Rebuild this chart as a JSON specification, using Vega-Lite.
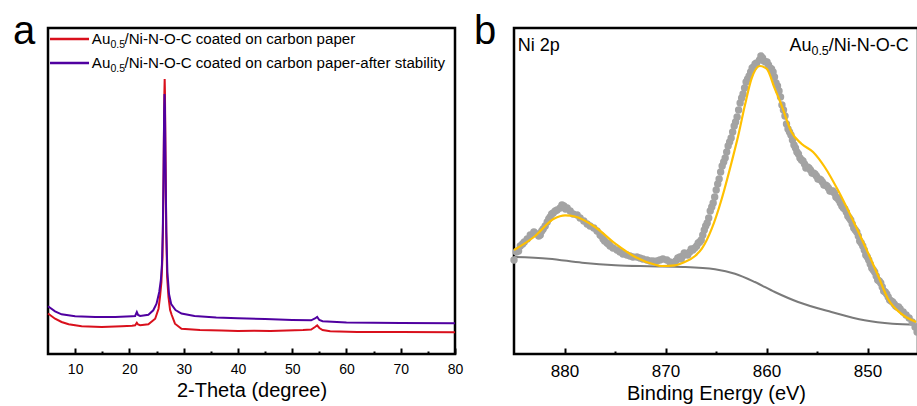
{
  "$schema": "https://vega.github.io/schema/vega-lite/v6.json",
  "padding": {"left": 11, "top": 10, "right": 0, "bottom": 0},
  "bounds": "flush",
  "spacing": 59,
  "config": {
    "font": "Liberation Sans",
    "view": {"stroke": "black", "strokeWidth": 2.5},
    "axis": {"grid": false, "domain": false, "labelColor": "black", "titleColor": "black", "tickColor": "black", "titleFontWeight": "normal", "labelFlush": false}
  },
  "datasets": {
    "red": [
      {"x": 5, "y": 40.5}, {"x": 6.3, "y": 35.3}, {"x": 7.5, "y": 32}, {"x": 8.8, "y": 29.7}, {"x": 11.2, "y": 27.7},
      {"x": 14.9, "y": 27}, {"x": 18.6, "y": 27.7}, {"x": 20.5, "y": 28.2}, {"x": 21.06, "y": 28.7}, {"x": 21.37, "y": 31.3},
      {"x": 21.6, "y": 29.5}, {"x": 21.98, "y": 28.7}, {"x": 23.5, "y": 29.7}, {"x": 24.75, "y": 35.3}, {"x": 25.37, "y": 45.3},
      {"x": 25.67, "y": 58.7}, {"x": 25.9, "y": 72}, {"x": 26.1, "y": 97}, {"x": 26.25, "y": 152}, {"x": 26.35, "y": 212},
      {"x": 26.45, "y": 262}, {"x": 26.5, "y": 275}, {"x": 26.55, "y": 262}, {"x": 26.65, "y": 202}, {"x": 26.8, "y": 122},
      {"x": 26.95, "y": 77}, {"x": 27.2, "y": 57}, {"x": 27.5, "y": 44}, {"x": 27.8, "y": 39}, {"x": 28.4, "y": 30.3},
      {"x": 29.6, "y": 25.3}, {"x": 33, "y": 24}, {"x": 37, "y": 23.5}, {"x": 40, "y": 23}, {"x": 43, "y": 23.3},
      {"x": 46, "y": 23}, {"x": 49, "y": 23.5}, {"x": 52, "y": 24}, {"x": 53.5, "y": 24.5}, {"x": 54.2, "y": 27},
      {"x": 54.6, "y": 28.7}, {"x": 55, "y": 26}, {"x": 55.6, "y": 24}, {"x": 57, "y": 22.7}, {"x": 62, "y": 22},
      {"x": 70, "y": 22}, {"x": 80, "y": 21.7}
    ],
    "purple": [
      {"x": 5, "y": 47.7}, {"x": 6.3, "y": 42.7}, {"x": 7.5, "y": 39.7}, {"x": 10, "y": 37.7}, {"x": 13.7, "y": 37},
      {"x": 17.4, "y": 37}, {"x": 20.5, "y": 37.8}, {"x": 21.06, "y": 38}, {"x": 21.37, "y": 42}, {"x": 21.6, "y": 39},
      {"x": 21.98, "y": 38}, {"x": 23.5, "y": 39.3}, {"x": 24.4, "y": 43.7}, {"x": 25.0, "y": 50.3}, {"x": 25.5, "y": 62},
      {"x": 25.8, "y": 74}, {"x": 26.0, "y": 90}, {"x": 26.15, "y": 122}, {"x": 26.3, "y": 182}, {"x": 26.4, "y": 242},
      {"x": 26.47, "y": 260}, {"x": 26.55, "y": 247}, {"x": 26.65, "y": 192}, {"x": 26.8, "y": 122}, {"x": 27.0, "y": 82},
      {"x": 27.3, "y": 60}, {"x": 27.7, "y": 50}, {"x": 28.5, "y": 44}, {"x": 29.6, "y": 40.5}, {"x": 32, "y": 38},
      {"x": 36, "y": 36.5}, {"x": 40, "y": 35.8}, {"x": 45, "y": 35}, {"x": 50, "y": 34}, {"x": 53.5, "y": 33.7},
      {"x": 54.2, "y": 35.5}, {"x": 54.6, "y": 37}, {"x": 55.0, "y": 34}, {"x": 55.6, "y": 32.7}, {"x": 60, "y": 31.5},
      {"x": 70, "y": 31}, {"x": 80, "y": 30.7}
    ],
    "legendLines": [
      {"x": 5.37, "x2": 12.56, "y": 315, "s": "before"},
      {"x": 5.37, "x2": 12.56, "y": 291, "s": "after"}
    ],
    "legendMain": [
      {"x": 13.08, "y": 309.7, "t": "Au"},
      {"x": 19.1, "y": 309.7, "t": "/Ni-N-O-C coated on carbon paper"},
      {"x": 13.08, "y": 285.7, "t": "Au"},
      {"x": 19.1, "y": 285.7, "t": "/Ni-N-O-C coated on carbon paper-after stability"}
    ],
    "legendSub": [
      {"x": 16.5, "y": 306.3, "t": "0.5"},
      {"x": 16.5, "y": 282, "t": "0.5"}
    ],
    "labelA": [
      {"x": -1.45, "y": 310.3, "t": "a"}
    ],
    "dots": [
      {"e": 885.00, "v": 94}, {"e": 884.77, "v": 102}, {"e": 884.38, "v": 108}, {"e": 883.98, "v": 112}, {"e": 883.69, "v": 115},
      {"e": 883.39, "v": 119}, {"e": 883.03, "v": 122}, {"e": 882.70, "v": 120}, {"e": 882.40, "v": 119}, {"e": 882.11, "v": 125},
      {"e": 881.71, "v": 132}, {"e": 881.42, "v": 137}, {"e": 881.12, "v": 141}, {"e": 880.73, "v": 144}, {"e": 880.43, "v": 146},
      {"e": 880.06, "v": 148}, {"e": 879.74, "v": 146}, {"e": 879.44, "v": 143}, {"e": 879.15, "v": 140}, {"e": 878.75, "v": 139},
      {"e": 878.46, "v": 136}, {"e": 878.09, "v": 133}, {"e": 877.76, "v": 130}, {"e": 877.47, "v": 128}, {"e": 877.10, "v": 126},
      {"e": 876.78, "v": 123}, {"e": 876.48, "v": 119}, {"e": 876.18, "v": 115}, {"e": 875.79, "v": 111}, {"e": 875.49, "v": 108},
      {"e": 875.20, "v": 106}, {"e": 874.80, "v": 104}, {"e": 874.51, "v": 102}, {"e": 874.21, "v": 100}, {"e": 873.82, "v": 99},
      {"e": 873.52, "v": 98}, {"e": 873.22, "v": 97}, {"e": 872.83, "v": 97}, {"e": 872.53, "v": 96}, {"e": 872.24, "v": 95},
      {"e": 871.84, "v": 94}, {"e": 871.54, "v": 93}, {"e": 871.25, "v": 93}, {"e": 870.85, "v": 93}, {"e": 870.56, "v": 94},
      {"e": 870.26, "v": 95}, {"e": 869.87, "v": 94}, {"e": 869.57, "v": 92}, {"e": 869.27, "v": 91}, {"e": 868.98, "v": 93},
      {"e": 868.58, "v": 97}, {"e": 868.29, "v": 98}, {"e": 867.99, "v": 100}, {"e": 867.60, "v": 102}, {"e": 867.30, "v": 104},
      {"e": 866.91, "v": 108}, {"e": 866.61, "v": 112}, {"e": 866.31, "v": 119}, {"e": 866.02, "v": 128}, {"e": 865.72, "v": 136},
      {"e": 865.42, "v": 147}, {"e": 865.13, "v": 157}, {"e": 864.83, "v": 170}, {"e": 864.54, "v": 182}, {"e": 864.24, "v": 192},
      {"e": 863.94, "v": 202}, {"e": 863.65, "v": 212}, {"e": 863.35, "v": 222}, {"e": 863.06, "v": 232}, {"e": 862.76, "v": 244},
      {"e": 862.46, "v": 256}, {"e": 862.17, "v": 266}, {"e": 861.87, "v": 275}, {"e": 861.57, "v": 282}, {"e": 861.28, "v": 287},
      {"e": 860.98, "v": 291}, {"e": 860.69, "v": 294}, {"e": 860.39, "v": 296}, {"e": 860.09, "v": 292}, {"e": 859.80, "v": 289},
      {"e": 859.50, "v": 285}, {"e": 859.21, "v": 277}, {"e": 858.91, "v": 268}, {"e": 858.61, "v": 257}, {"e": 858.32, "v": 244},
      {"e": 858.02, "v": 230}, {"e": 857.72, "v": 222}, {"e": 857.43, "v": 214}, {"e": 857.13, "v": 206}, {"e": 856.84, "v": 200},
      {"e": 856.54, "v": 194}, {"e": 856.24, "v": 190}, {"e": 855.95, "v": 187}, {"e": 855.65, "v": 184}, {"e": 855.36, "v": 181},
      {"e": 855.06, "v": 178}, {"e": 854.76, "v": 175}, {"e": 854.47, "v": 172}, {"e": 854.17, "v": 169}, {"e": 853.87, "v": 166},
      {"e": 853.58, "v": 163}, {"e": 853.28, "v": 161}, {"e": 852.99, "v": 156}, {"e": 852.69, "v": 151}, {"e": 852.39, "v": 146},
      {"e": 852.10, "v": 142}, {"e": 851.80, "v": 136}, {"e": 851.51, "v": 130}, {"e": 851.21, "v": 124}, {"e": 850.91, "v": 118},
      {"e": 850.62, "v": 111}, {"e": 850.32, "v": 104}, {"e": 850.02, "v": 97}, {"e": 849.73, "v": 90}, {"e": 849.43, "v": 84},
      {"e": 849.14, "v": 78}, {"e": 848.84, "v": 73}, {"e": 848.54, "v": 67}, {"e": 848.25, "v": 62}, {"e": 847.95, "v": 57},
      {"e": 847.66, "v": 53}, {"e": 847.36, "v": 50}, {"e": 847.06, "v": 47}, {"e": 846.77, "v": 45}, {"e": 846.47, "v": 42},
      {"e": 846.18, "v": 39}, {"e": 845.88, "v": 36}, {"e": 845.58, "v": 32}, {"e": 845.29, "v": 27}, {"e": 845.09, "v": 22},
      {"e": 866.16, "v": 124}, {"e": 865.87, "v": 131}, {"e": 865.57, "v": 143}, {"e": 865.28, "v": 151}, {"e": 864.98, "v": 164},
      {"e": 864.69, "v": 175}, {"e": 864.39, "v": 188}, {"e": 864.09, "v": 196}, {"e": 863.80, "v": 208}, {"e": 863.50, "v": 216},
      {"e": 863.20, "v": 228}, {"e": 862.91, "v": 237}, {"e": 862.61, "v": 251}, {"e": 862.32, "v": 260}, {"e": 862.02, "v": 272},
      {"e": 861.72, "v": 278}, {"e": 861.42, "v": 286}, {"e": 861.13, "v": 290}, {"e": 860.55, "v": 298}, {"e": 860.25, "v": 293},
      {"e": 859.95, "v": 292}, {"e": 859.65, "v": 286}, {"e": 859.35, "v": 282}, {"e": 859.06, "v": 271}, {"e": 858.76, "v": 263},
      {"e": 858.47, "v": 249}, {"e": 858.17, "v": 238}, {"e": 857.87, "v": 225}, {"e": 857.58, "v": 219}, {"e": 857.28, "v": 209},
      {"e": 856.99, "v": 202}, {"e": 856.69, "v": 196}, {"e": 856.39, "v": 193}, {"e": 856.10, "v": 186}, {"e": 855.80, "v": 186},
      {"e": 855.50, "v": 181}, {"e": 855.21, "v": 180}, {"e": 854.91, "v": 175}, {"e": 854.62, "v": 174}, {"e": 854.32, "v": 169},
      {"e": 854.02, "v": 168}, {"e": 853.73, "v": 163}, {"e": 853.43, "v": 163}, {"e": 853.13, "v": 157}, {"e": 852.84, "v": 154},
      {"e": 852.54, "v": 148}, {"e": 852.25, "v": 145}, {"e": 851.95, "v": 138}, {"e": 851.66, "v": 134}, {"e": 851.36, "v": 126},
      {"e": 851.06, "v": 122}, {"e": 850.77, "v": 113}, {"e": 850.47, "v": 108}, {"e": 850.17, "v": 99}, {"e": 849.88, "v": 94},
      {"e": 849.58, "v": 86}, {"e": 849.29, "v": 82}, {"e": 848.99, "v": 74}, {"e": 848.69, "v": 71}, {"e": 848.40, "v": 63},
      {"e": 848.10, "v": 60}, {"e": 847.81, "v": 54}, {"e": 847.51, "v": 52}, {"e": 847.21, "v": 48}, {"e": 846.92, "v": 47},
      {"e": 882.55, "v": 118}, {"e": 882.25, "v": 123}, {"e": 881.91, "v": 128}, {"e": 881.56, "v": 135}, {"e": 881.27, "v": 140},
      {"e": 880.92, "v": 143}, {"e": 880.25, "v": 149}, {"e": 879.90, "v": 145}, {"e": 884.55, "v": 103}, {"e": 884.15, "v": 110},
      {"e": 876.33, "v": 118}, {"e": 876.03, "v": 113}, {"e": 875.64, "v": 110}, {"e": 868.78, "v": 96}, {"e": 868.44, "v": 95},
      {"e": 868.14, "v": 101}, {"e": 867.80, "v": 99}, {"e": 867.45, "v": 105}, {"e": 867.10, "v": 106}, {"e": 866.76, "v": 111},
      {"e": 866.46, "v": 114}
    ],
    "fit": [
      {"e": 885.0, "v": 104}, {"e": 883.03, "v": 117}, {"e": 881.05, "v": 135.3}, {"e": 879.94, "v": 138.7}, {"e": 878.97, "v": 137.5},
      {"e": 876.97, "v": 127}, {"e": 874.97, "v": 110.3}, {"e": 873.0, "v": 97}, {"e": 871.02, "v": 89.3}, {"e": 870.36, "v": 88},
      {"e": 869.05, "v": 88.7}, {"e": 868.09, "v": 92}, {"e": 867.07, "v": 98}, {"e": 866.40, "v": 105.3}, {"e": 865.42, "v": 125.3},
      {"e": 864.43, "v": 155.3}, {"e": 863.45, "v": 192}, {"e": 862.79, "v": 218.7}, {"e": 862.14, "v": 248.7}, {"e": 861.48, "v": 275.3},
      {"e": 860.66, "v": 288}, {"e": 859.99, "v": 285.3}, {"e": 859.18, "v": 265.3}, {"e": 858.51, "v": 248.7}, {"e": 857.53, "v": 222},
      {"e": 856.54, "v": 210.3}, {"e": 855.39, "v": 202}, {"e": 854.24, "v": 187}, {"e": 852.92, "v": 163.7}, {"e": 851.60, "v": 137},
      {"e": 850.29, "v": 108.7}, {"e": 848.97, "v": 78.7}, {"e": 847.98, "v": 55.3}, {"e": 846.67, "v": 40.3}, {"e": 845.19, "v": 32}
    ],
    "bg": [
      {"e": 885.0, "v": 97}, {"e": 881.55, "v": 95.3}, {"e": 878.26, "v": 91.3}, {"e": 874.97, "v": 88.7}, {"e": 871.67, "v": 87.7},
      {"e": 868.26, "v": 87}, {"e": 865.1, "v": 84.7}, {"e": 863.12, "v": 80.3}, {"e": 861.15, "v": 72}, {"e": 859.18, "v": 62},
      {"e": 856.87, "v": 52}, {"e": 853.58, "v": 42}, {"e": 850.29, "v": 33.7}, {"e": 847.53, "v": 30.3}, {"e": 845.1, "v": 29.3}
    ],
    "xpsMain": [
      {"e": 884.64, "v": 302.7, "t": "Ni 2p"},
      {"e": 857.72, "v": 302.7, "t": "Au"},
      {"e": 853.83, "v": 302.7, "t": "/Ni-N-O-C"}
    ],
    "xpsSub": [
      {"e": 855.55, "v": 299, "t": "0.5"}
    ],
    "labelB": [
      {"e": 888.97, "v": 310.3, "t": "b"}
    ]
  },
  "hconcat": [
    {
      "width": 407,
      "height": 326,
      "resolve": {"axis": {"x": "independent"}},
      "layer": [
        {
          "data": {"name": "red"},
          "mark": {"type": "line", "color": "#d9101c", "strokeWidth": 2},
          "encoding": {
            "x": {"field": "x", "type": "quantitative", "scale": {"domain": [5, 80], "nice": false, "zero": false},
              "axis": {"values": [10, 20, 30, 40, 50, 60, 70, 80], "format": "d", "title": "2-Theta (degree)", "tickSize": -6, "tickWidth": 2, "labelPadding": 14.5, "labelFontSize": 14, "titleFontSize": 20, "titlePadding": 4, "orient": "bottom"}},
            "y": {"field": "y", "type": "quantitative", "scale": {"domain": [0, 326], "nice": false},
              "axis": {"title": "Intensity (a.u.)", "labels": false, "ticks": false, "titleFontSize": 20, "titlePadding": 5}}
          }
        },
        {
          "data": {"name": "purple"},
          "mark": {"type": "line", "color": "#5000a0", "strokeWidth": 2},
          "encoding": {
            "x": {"field": "x", "type": "quantitative",
              "axis": {"values": [15, 25, 35, 45, 55, 65, 75], "labels": false, "title": null, "tickSize": -3, "tickWidth": 2, "orient": "bottom"}},
            "y": {"field": "y", "type": "quantitative", "axis": null}
          }
        },
        {
          "data": {"name": "legendLines"},
          "mark": {"type": "rule", "strokeWidth": 2.5},
          "encoding": {
            "x": {"field": "x", "type": "quantitative", "axis": null},
            "x2": {"field": "x2"},
            "y": {"field": "y", "type": "quantitative", "axis": null},
            "color": {"field": "s", "type": "nominal", "scale": {"domain": ["before", "after"], "range": ["#d9101c", "#5000a0"]}, "legend": null}
          }
        },
        {
          "data": {"name": "legendMain"},
          "mark": {"type": "text", "align": "left", "baseline": "alphabetic", "fontSize": 15.1, "color": "black"},
          "encoding": {
            "x": {"field": "x", "type": "quantitative", "axis": null},
            "y": {"field": "y", "type": "quantitative", "axis": null},
            "text": {"field": "t"}
          }
        },
        {
          "data": {"name": "legendSub"},
          "mark": {"type": "text", "align": "left", "baseline": "alphabetic", "fontSize": 10.5, "color": "black"},
          "encoding": {
            "x": {"field": "x", "type": "quantitative", "axis": null},
            "y": {"field": "y", "type": "quantitative", "axis": null},
            "text": {"field": "t"}
          }
        },
        {
          "data": {"name": "labelA"},
          "mark": {"type": "text", "align": "left", "baseline": "alphabetic", "fontSize": 40, "color": "black"},
          "encoding": {
            "x": {"field": "x", "type": "quantitative", "axis": null},
            "y": {"field": "y", "type": "quantitative", "axis": null},
            "text": {"field": "t"}
          }
        }
      ]
    },
    {
      "width": 404,
      "height": 326,
      "resolve": {"axis": {"x": "independent"}},
      "layer": [
        {
          "data": {"name": "bg"},
          "mark": {"type": "line", "color": "#7a7a7a", "strokeWidth": 2, "interpolate": "monotone"},
          "encoding": {
            "x": {"field": "e", "type": "quantitative", "scale": {"domain": [845, 885], "reverse": true, "nice": false, "zero": false},
              "axis": {"values": [850, 860, 870, 880], "format": "d", "title": "Binding Energy (eV)", "tickSize": -6, "tickWidth": 2, "labelPadding": 15, "labelFontSize": 17, "titleFontSize": 20, "titlePadding": 4, "orient": "bottom"}},
            "y": {"field": "v", "type": "quantitative", "scale": {"domain": [0, 326], "nice": false},
              "axis": {"title": "Intensity (a.u.)", "labels": false, "ticks": false, "titleFontSize": 20, "titlePadding": 5}}
          }
        },
        {
          "data": {"name": "dots"},
          "mark": {"type": "circle", "color": "#a3a3a3", "opacity": 1, "size": 55},
          "encoding": {
            "x": {"field": "e", "type": "quantitative",
              "axis": {"values": [855, 865, 875], "labels": false, "title": null, "tickSize": -3, "tickWidth": 2, "orient": "bottom"}},
            "y": {"field": "v", "type": "quantitative", "axis": null}
          }
        },
        {
          "data": {"name": "fit"},
          "mark": {"type": "line", "color": "#ffc000", "strokeWidth": 2.2, "interpolate": "monotone"},
          "encoding": {
            "x": {"field": "e", "type": "quantitative", "axis": null},
            "y": {"field": "v", "type": "quantitative", "axis": null}
          }
        },
        {
          "data": {"name": "xpsMain"},
          "mark": {"type": "text", "align": "left", "baseline": "alphabetic", "fontSize": 18, "color": "black"},
          "encoding": {
            "x": {"field": "e", "type": "quantitative", "axis": null},
            "y": {"field": "v", "type": "quantitative", "axis": null},
            "text": {"field": "t"}
          }
        },
        {
          "data": {"name": "xpsSub"},
          "mark": {"type": "text", "align": "left", "baseline": "alphabetic", "fontSize": 12.5, "color": "black"},
          "encoding": {
            "x": {"field": "e", "type": "quantitative", "axis": null},
            "y": {"field": "v", "type": "quantitative", "axis": null},
            "text": {"field": "t"}
          }
        },
        {
          "data": {"name": "labelB"},
          "mark": {"type": "text", "align": "left", "baseline": "alphabetic", "fontSize": 40, "color": "black"},
          "encoding": {
            "x": {"field": "e", "type": "quantitative", "axis": null},
            "y": {"field": "v", "type": "quantitative", "axis": null},
            "text": {"field": "t"}
          }
        }
      ]
    }
  ]
}
